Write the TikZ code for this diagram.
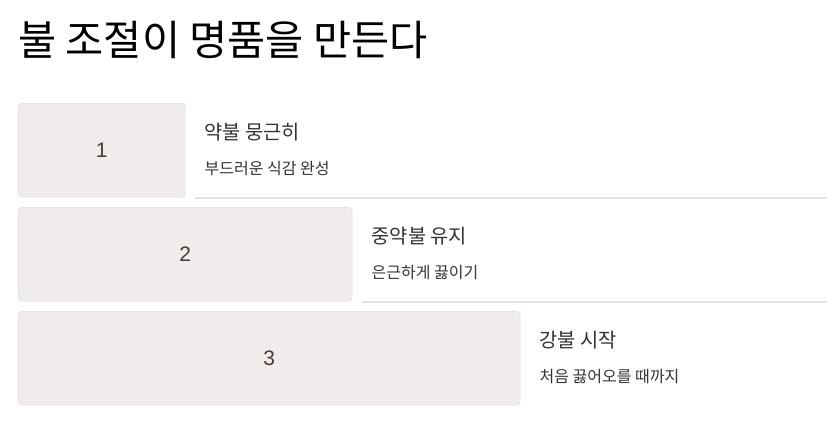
\documentclass[tikz,border=0pt]{standalone}
\usepackage{fontspec}
\setmainfont{Noto Sans CJK KR}
\newfontfamily\digitfont{Liberation Sans}
\usepackage{xcolor}
\definecolor{stepfill}{HTML}{F0ECEB}
\definecolor{stepline}{HTML}{D9D5D3}
\definecolor{numtext}{HTML}{4A3C36}
\definecolor{labtext}{HTML}{333333}
\definecolor{sepgrey}{HTML}{E4E4E4}
\usepackage{tikz}
\usetikzlibrary{positioning, calc}

\begin{document}
\begin{tikzpicture}[x=1pt, y=1pt,
    stepbox/.style={draw=stepline, fill=stepfill, rounded corners=4pt, anchor=north west,
        minimum height=94pt, text=numtext, font=\digitfont\fontsize{21}{23}\selectfont},
    steptitle/.style={inner sep=0pt, text=labtext, font=\fontsize{19.8}{22}\selectfont},
    stepnote/.style={inner sep=0pt, text=labtext, font=\fontsize{16}{18}\selectfont},
    sepline/.style={draw=sepgrey, line width=2pt}]
        \useasboundingbox (0,0) rectangle (827,-439);
        \coordinate (edge) at (827,0);

        % Heading
        \node[anchor=west, inner sep=0pt, font=\fontsize{41.5}{45}\selectfont] (heading) at (18,-40) {불 조절이 명품을 만든다};

        % Step 1
        \node[stepbox, minimum width=167pt] (box1) at (18,-103) {1};
        \node[steptitle, below right=20pt and 19pt of box1.north east] (lab1) {약불 뭉근히};
        \node[stepnote, below right=19.5pt and 0pt of lab1.south west] (note1) {부드러운 식감 완성};
        \draw[sepline] ([xshift=10pt,yshift=-1pt]box1.south east) -- ([yshift=-1pt]box1.south east -| edge);

        % Step 2
        \node[stepbox, minimum width=334pt] (box2) at (18,-207) {2};
        \node[steptitle, below right=20pt and 19pt of box2.north east] (lab2) {중약불 유지};
        \node[stepnote, below right=19.5pt and 0pt of lab2.south west] (note2) {은근하게 끓이기};
        \draw[sepline] ([xshift=10pt,yshift=-1pt]box2.south east) -- ([yshift=-1pt]box2.south east -| edge);

        % Step 3
        \node[stepbox, minimum width=502pt] (box3) at (18,-311) {3};
        \node[steptitle, below right=20pt and 19pt of box3.north east] (lab3) {강불 시작};
        \node[stepnote, below right=19.5pt and 0pt of lab3.south west] (note3) {처음 끓어오를 때까지};
    \end{tikzpicture}
\end{document}
